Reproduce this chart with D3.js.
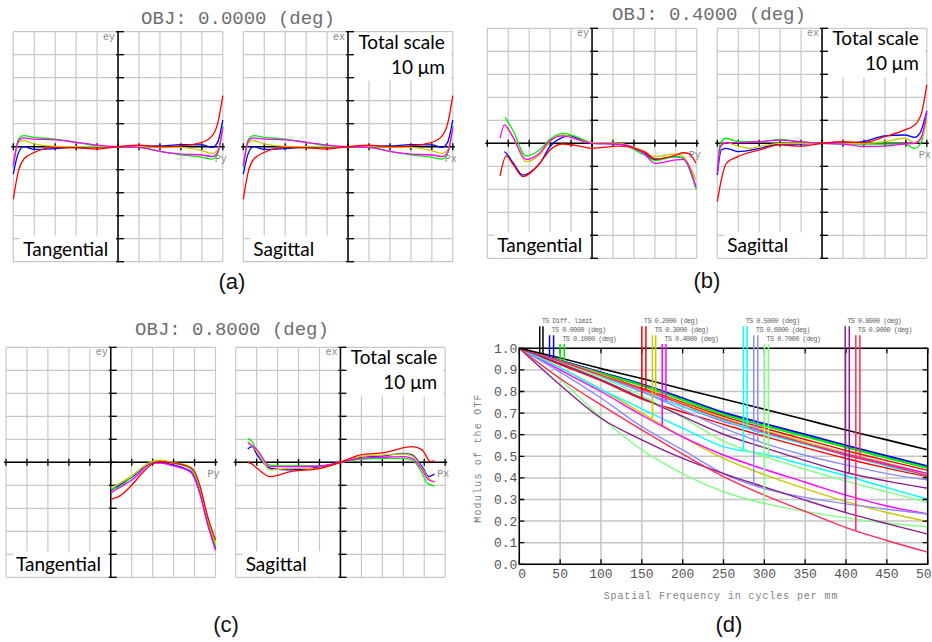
<!DOCTYPE html>
<html>
<head>
<meta charset="utf-8">
<script src="https://cdn.jsdelivr.net/npm/d3@7"></script>
<style>
  body { margin: 0; background: #fff; }
  svg { display: block; }
</style>
</head>
<body>
<svg id="chart"></svg>
<script>
// ---- ray fan data: [pupil coordinate, aberration in um], order = fanColors ----
const fanColors = ["#0000ff", "#00ee00", "#c8c800", "#ff00ff", "#ff0000"];

const pupilA = [-1, -0.95, -0.9, -0.8, -0.6, -0.4, -0.2, 0, 0.2, 0.4, 0.6, 0.8, 0.9, 0.95, 1];
const fanA = [
  [-1.19, -0.25, 0, -0.12, -0.08, -0.02, 0, 0, 0.02, 0.03, 0.09, 0.08, -0.03, 0.19, 1.16],
  [-0.9, 0.33, 0.48, 0.41, 0.33, 0.19, 0.04, 0, -0.03, -0.2, -0.35, -0.46, -0.54, -0.32, 0.91],
  [-0.75, 0.19, 0.26, 0.12, 0.01, 0, 0, 0, 0, -0.02, -0.03, -0.17, -0.29, -0.15, 0.7],
  [-0.83, 0.26, 0.38, 0.33, 0.30, 0.19, 0.07, 0, -0.03, -0.2, -0.32, -0.36, -0.43, -0.25, 0.84],
  [-2.28, -1.04, -0.54, -0.25, -0.03, -0.05, -0.1, 0, 0.07, 0, 0.04, 0.19, 0.48, 0.99, 2.22]
];

const fanBT = [
  [[-0.836, -0.36], [-0.814, -0.46], [-0.75, -0.87], [-0.661, -1.38], [-0.598, -1.28], [-0.499, -0.87], [-0.401, -0.14], [-0.28, 0.26], [-0.216, 0.32], [-0.099, 0.14], [0, 0], [0.251, -0.03], [0.499, -0.43], [0.601, -0.7], [0.801, -0.58], [0.871, -0.65], [0.992, -1.96]],
  [[-0.83, 1.13], [-0.757, 0.58], [-0.63, -0.55], [-0.502, -0.29], [-0.401, 0.17], [-0.28, 0.43], [-0.153, 0.29], [0, 0.03], [0.251, 0], [0.499, -0.51], [0.601, -0.75], [0.801, -0.58], [0.871, -0.65], [0.992, -1.96]],
  [[-0.82, 0.72], [-0.757, 0.29], [-0.63, -0.8], [-0.502, -0.51], [-0.401, 0.07], [-0.28, 0.36], [-0.121, 0.14], [0, 0.03], [0.261, 0], [0.499, -0.36], [0.601, -0.58], [0.801, -0.46], [0.871, -0.58], [0.992, -1.59]],
  [[-0.878, 0.22], [-0.836, 0.8], [-0.757, 0.29], [-0.63, -0.7], [-0.502, -0.43], [-0.401, 0.12], [-0.28, 0.32], [-0.121, 0.14], [0, 0], [0.251, -0.03], [0.499, -0.46], [0.601, -0.87], [0.801, -0.72], [0.871, -0.7], [0.992, -1.88]],
  [[-0.878, -1.42], [-0.82, -0.55], [-0.75, -0.94], [-0.661, -1.45], [-0.499, -0.87], [-0.401, -0.29], [-0.28, -0.03], [-0.099, -0.14], [0, -0.22], [0.251, -0.12], [0.499, -0.36], [0.601, -0.68], [0.801, -0.51], [0.871, -0.41], [0.928, -0.46], [0.992, -0.87]]
];

const fanBS = [
  [[-1, -1.38], [-0.962, -0.29], [-0.914, -0.22], [-0.803, -0.36], [-0.596, -0.22], [-0.404, -0.03], [-0.213, -0.03], [0, 0], [0.201, 0], [0.392, 0.07], [0.599, 0.32], [0.79, 0.36], [0.885, 0.26], [0.933, 0.43], [1, 1.41]],
  [[-1, -1.01], [-0.971, 0], [-0.914, 0.22], [-0.803, 0.07], [-0.596, 0.07], [-0.404, 0.17], [-0.213, 0.07], [0, 0], [0.201, -0.03], [0.392, -0.03], [0.599, -0.03], [0.79, -0.03], [0.885, -0.22], [0.949, 0.07], [1, 1.3]],
  [[-1, -1.09], [-0.962, -0.07], [-0.914, 0.03], [-0.803, -0.12], [-0.691, -0.22], [-0.596, -0.14], [-0.404, 0], [0, 0], [0.392, 0], [0.599, 0.07], [0.79, 0.22], [0.885, 0.03], [0.949, 0.22], [1, 1.01]],
  [[-1, -1.3], [-0.971, -0.14], [-0.914, 0.03], [-0.803, 0.03], [-0.596, 0.07], [-0.404, 0.14], [-0.213, 0.07], [0, 0], [0.201, -0.03], [0.392, -0.14], [0.599, -0.12], [0.79, -0.03], [0.885, 0], [0.949, 0.29], [1, 1.38]],
  [[-1, -2.54], [-0.962, -1.59], [-0.914, -0.87], [-0.803, -0.58], [-0.596, -0.29], [-0.404, -0.07], [-0.213, -0.12], [0, 0], [0.201, 0.07], [0.392, 0.03], [0.599, 0.29], [0.79, 0.58], [0.885, 0.8], [0.949, 1.3], [1, 2.54]]
];

const fanCT = [
  [[0, -1.23], [0.201, -0.65], [0.408, 0], [0.471, 0], [0.599, -0.12], [0.726, -0.3], [0.774, -0.45], [0.854, -1.35], [0.917, -2.5], [1, -3.74]],
  [[0, -1.17], [0.089, -1.06], [0.201, -0.62], [0.312, -0.19], [0.408, 0.03], [0.471, 0.07], [0.599, -0.04], [0.726, -0.19], [0.774, -0.33], [0.854, -1.2], [0.917, -2.36], [1, -3.67]],
  [[0, -1.13], [0.201, -0.59], [0.408, 0.06], [0.471, 0.09], [0.599, -0.01], [0.726, -0.12], [0.774, -0.26], [0.854, -1.13], [0.917, -2.29], [1, -3.52]],
  [[0, -1.32], [0.201, -0.77], [0.408, -0.04], [0.471, -0.04], [0.599, -0.16], [0.726, -0.33], [0.774, -0.48], [0.854, -1.42], [0.917, -2.58], [1, -3.84]],
  [[0, -1.61], [0.089, -1.46], [0.201, -0.99], [0.312, -0.41], [0.408, -0.04], [0.471, 0.03], [0.599, -0.04], [0.726, -0.16], [0.79, -0.33], [0.854, -1.06], [0.917, -2.22], [1, -3.38]]
];

const fanCS = [
  [[-0.885, 0.58], [-0.844, 0.68], [-0.796, 0.32], [-0.669, -0.26], [-0.478, -0.33], [-0.191, -0.19], [0, 0], [0.191, 0.22], [0.414, 0.28], [0.605, 0.39], [0.685, 0.32], [0.78, -0.19], [0.844, -0.62], [0.898, -0.51]],
  [[-0.885, 1.04], [-0.844, 0.9], [-0.796, 0.46], [-0.669, -0.12], [-0.478, -0.16], [-0.191, -0.16], [0, 0], [0.191, 0.13], [0.414, 0.17], [0.605, 0.17], [0.685, 0.1], [0.78, -0.48], [0.828, -0.91], [0.898, -1.03]],
  [[-0.885, 0.9], [-0.796, 0.46], [-0.669, -0.33], [-0.478, -0.26], [-0.191, -0.26], [0, 0], [0.191, 0.25], [0.414, 0.32], [0.605, 0.36], [0.685, 0.28], [0.78, -0.26], [0.844, -0.7], [0.898, -0.88]],
  [[-0.885, 0.86], [-0.796, 0.54], [-0.669, -0.19], [-0.478, -0.19], [-0.191, -0.16], [0, 0], [0.191, 0.17], [0.414, 0.22], [0.605, 0.25], [0.685, 0.17], [0.78, -0.33], [0.844, -0.77], [0.898, -0.84]],
  [[-0.885, 0.0], [-0.85, -0.06], [-0.796, -0.26], [-0.669, -0.62], [-0.478, -0.41], [-0.191, -0.26], [0, 0], [0.191, 0.32], [0.414, 0.42], [0.685, 0.68], [0.78, 0.54], [0.86, 0.03], [0.898, 0.07]]
];

// ---- MTF data ----
const freqs = [0, 50, 100, 150, 200, 250, 300, 350, 400, 450, 500];
const mtfDiff = [1, .955, .906, .860, .812, .765, .718, .670, .622, .576, .53];
const fieldNames = ["0.0000", "0.1000", "0.2000", "0.3000", "0.4000", "0.5000", "0.6000", "0.7000", "0.8000", "0.9000"];
const fieldColors = ["#0000ff", "#00ee00", "#ff0000", "#c8c800", "#ff00ff", "#00ffff", "#8c8cff", "#80ff80", "#8b1e8b", "#ff2a5a"];
const mtfT = [
  [1, .945, .89, .835, .77, .704, .652, .602, .552, .503, .455],
  [1, .943, .886, .83, .763, .696, .644, .594, .544, .495, .448],
  [1, .925, .85, .765, .705, .648, .592, .54, .49, .445, .405],
  [1, .91, .81, .70, .59, .49, .415, .35, .29, .24, .198],
  [1, .90, .80, .69, .59, .506, .44, .38, .32, .27, .233],
  [1, .91, .81, .72, .63, .545, .51, .46, .41, .355, .301],
  [1, .89, .77, .637, .53, .42, .35, .31, .28, .255, .233],
  [1, .855, .68, .53, .42, .336, .282, .245, .215, .19, .174],
  [1, .83, .676, .576, .49, .42, .358, .297, .239, .188, .14],
  [1, .86, .738, .622, .51, .406, .32, .245, .17, .11, .056]
];
const mtfS = [
  [1, .944, .888, .832, .768, .70, .648, .598, .548, .5, .452],
  [1, .941, .883, .826, .759, .692, .64, .59, .54, .491, .444],
  [1, .94, .88, .815, .75, .685, .63, .578, .527, .48, .435],
  [1, .94, .88, .81, .745, .675, .62, .567, .515, .468, .42],
  [1, .935, .87, .80, .73, .662, .61, .56, .51, .465, .42],
  [1, .935, .87, .80, .73, .665, .605, .555, .505, .455, .41],
  [1, .94, .875, .80, .715, .63, .56, .505, .46, .42, .39],
  [1, .935, .865, .78, .68, .57, .5, .44, .385, .335, .287],
  [1, .93, .855, .77, .685, .602, .54, .48, .425, .385, .352],
  [1, .94, .875, .81, .74, .672, .615, .56, .505, .46, .41]
];
// legend marker frequencies (T line, S line): diff limit first, then fields
const markerT = [25, 37, 50, 150, 163, 175, 274.5, 287, 300, 399, 412];
const markerS = [29, 42, 55, 155, 167, 179.5, 279, 292, 305, 404, 417];
const xTicks = [0, 50, 100, 150, 200, 250, 300, 350, 400, 450, 500];
const yTicks = [0, .1, .2, .3, .4, .5, .6, .7, .8, .9, 1];

const width = 932;
const height = 642;
const svg = d3.select("#chart").attr("width", width).attr("height", height);

const mono = "'Liberation Mono', 'Courier New', monospace";
const calib = "Lato, 'Open Sans', sans-serif";
const boxW = 209.5, boxH = 230;

function drawFan(bx, by, series, o) {
    const g = svg.append("g");
    const x = d3.scaleLinear().domain([-1, 1]).range([bx, bx + boxW]);
    const y = d3.scaleLinear().domain([-5, 5]).range([by + boxH, by]);
    const xt = d3.range(-5, 6).map(d => d / 5);
    const yt = d3.range(-5, 6);

    g.append("g").selectAll("line").data(xt).join("line")
        .attr("x1", d => x(d)).attr("x2", d => x(d))
        .attr("y1", y(-5)).attr("y2", y(5))
        .attr("stroke", "#c8c8c8").attr("stroke-width", 1.2);
    g.append("g").selectAll("line").data(yt).join("line")
        .attr("x1", x(-1)).attr("x2", x(1))
        .attr("y1", d => y(d)).attr("y2", d => y(d))
        .attr("stroke", "#c8c8c8").attr("stroke-width", 1.2);

    // label at bottom left, on a white patch
    const lab = g.append("text")
        .attr("x", bx + 10).attr("y", by + boxH - 6)
        .attr("font-family", calib).attr("font-size", 19)
        .text(o.name);
    const bb = lab.node().getBBox();
    g.insert("rect", "text")
        .attr("x", bb.x - 3).attr("y", bb.y - 1)
        .attr("width", x(0) - bb.x + 1).attr("height", by + boxH - bb.y)
        .attr("fill", "#fff");

    if (o.scale) {
        g.append("rect")
            .attr("x", x(0) + 3).attr("y", by + 1)
            .attr("width", x(1) - x(0) - 5).attr("height", 48)
            .attr("fill", "#fff");
        g.append("text").attr("x", x(1) - 8).attr("y", by + 17)
            .attr("text-anchor", "end").attr("font-family", calib).attr("font-size", 19)
            .text("Total scale");
        g.append("text").attr("x", x(1) - 8).attr("y", by + 42)
            .attr("text-anchor", "end").attr("font-family", calib).attr("font-size", 19)
            .text("10 \u03bcm");
    }

    // axes
    g.append("line").attr("x1", x(-1) - 2).attr("x2", x(1) + 2)
        .attr("y1", y(0)).attr("y2", y(0)).attr("stroke", "#000").attr("stroke-width", 1.5);
    g.append("line").attr("x1", x(0)).attr("x2", x(0))
        .attr("y1", y(-5)).attr("y2", y(5)).attr("stroke", "#000").attr("stroke-width", 1.5);
    g.append("g").selectAll("line").data(xt).join("line")
        .attr("x1", d => x(d)).attr("x2", d => x(d))
        .attr("y1", y(0) - 3.5).attr("y2", y(0) + 3.5)
        .attr("stroke", "#000").attr("stroke-width", 1.3);
    g.append("g").selectAll("line").data(yt).join("line")
        .attr("x1", x(0) - 2).attr("x2", x(0) + 6)
        .attr("y1", d => y(d)).attr("y2", d => y(d))
        .attr("stroke", "#000").attr("stroke-width", 1.3);

    g.append("text").attr("x", x(0) - 3).attr("y", by + 8)
        .attr("text-anchor", "end").attr("font-family", mono).attr("font-size", 10)
        .attr("fill", "#888").text(o.yLabel);
    g.append("text").attr("x", x(1) + 4).attr("y", y(0) + 15)
        .attr("text-anchor", "end").attr("font-family", mono).attr("font-size", 10)
        .attr("fill", "#888").text(o.xLabel);

    const line = d3.line().x(d => x(d[0])).y(d => y(d[1])).curve(d3.curveMonotoneX);
    g.append("g").selectAll("path").data(series).join("path")
        .attr("d", line)
        .attr("fill", "none")
        .attr("stroke", (d, i) => fanColors[i])
        .attr("stroke-width", 1.3);
}

function title(cx, cy, txt) {
    svg.append("text").attr("x", cx).attr("y", cy)
        .attr("text-anchor", "middle").attr("font-family", mono).attr("font-size", 19)
        .attr("fill", "#6e6e6e").text(txt);
}
function subLabel(cx, cy, txt) {
    svg.append("text").attr("x", cx).attr("y", cy)
        .attr("text-anchor", "middle").attr("font-family", "'Liberation Sans', Arial, sans-serif")
        .attr("font-size", 22).attr("fill", "#111").text(txt);
}

const fanAPairs = fanA.map(s => s.map((v, i) => [pupilA[i], v]));

title(238, 24, "OBJ: 0.0000 (deg)");
drawFan(13.3, 31.7, fanAPairs, { name: "Tangential", yLabel: "ey", xLabel: "Py" });
drawFan(243.3, 31.7, fanAPairs, { name: "Sagittal", yLabel: "ex", xLabel: "Px", scale: true });
subLabel(232, 289, "(a)");

title(709, 20, "OBJ: 0.4000 (deg)");
drawFan(487.3, 28.3, fanBT, { name: "Tangential", yLabel: "ey", xLabel: "Py" });
drawFan(717.3, 28.3, fanBS, { name: "Sagittal", yLabel: "ex", xLabel: "Px", scale: true });
subLabel(707, 288, "(b)");

title(232, 335, "OBJ: 0.8000 (deg)");
drawFan(6, 347.3, fanCT, { name: "Tangential", yLabel: "ey", xLabel: "Py" });
drawFan(235.7, 347.3, fanCS, { name: "Sagittal", yLabel: "ex", xLabel: "Px", scale: true });
subLabel(226, 632, "(c)");

// ---- MTF panel ----
function drawMTF() {
    const g = svg.append("g");
    const x = d3.scaleLinear().domain([0, 500]).range([519.3, 927.7]);
    const y = d3.scaleLinear().domain([0, 1]).range([564.3, 348.3]);

    g.append("g").selectAll("line").data(xTicks).join("line")
        .attr("x1", d => x(d)).attr("x2", d => x(d))
        .attr("y1", y(0)).attr("y2", y(1))
        .attr("stroke", "#c4c4c4").attr("stroke-width", 1.5);
    g.append("g").selectAll("line").data(yTicks).join("line")
        .attr("x1", x(0)).attr("x2", x(500))
        .attr("y1", d => y(d)).attr("y2", d => y(d))
        .attr("stroke", "#c4c4c4").attr("stroke-width", 1.5);

    const line = d3.line().x((d, i) => x(freqs[i])).y(d => y(d)).curve(d3.curveMonotoneX);
    const curves = [];
    mtfT.forEach((s, i) => {
        curves.push({ v: s, c: fieldColors[i] });
        curves.push({ v: mtfS[i], c: fieldColors[i] });
    });
    g.append("g").selectAll("path").data(curves).join("path")
        .attr("d", d => line(d.v))
        .attr("fill", "none").attr("stroke", d => d.c).attr("stroke-width", 1.4);
    g.append("path").attr("d", line(mtfDiff))
        .attr("fill", "none").attr("stroke", "#000").attr("stroke-width", 1.6);

    // frame + ticks
    g.append("rect").attr("x", x(0)).attr("y", y(1))
        .attr("width", x(500) - x(0)).attr("height", y(0) - y(1))
        .attr("fill", "none").attr("stroke", "#000").attr("stroke-width", 1.5);
    g.append("g").selectAll("path").data(xTicks).join("path")
        .attr("d", d => `M${x(d)},${y(0)}v-5M${x(d)},${y(1)}v5`)
        .attr("stroke", "#000").attr("stroke-width", 1.3);
    g.append("g").selectAll("path").data(yTicks).join("path")
        .attr("d", d => `M${x(0)},${y(d)}h5M${x(500)},${y(d)}h-5`)
        .attr("stroke", "#000").attr("stroke-width", 1.3);

    g.append("g").selectAll("text").data(yTicks).join("text")
        .attr("x", x(0) - 2).attr("y", d => y(d) + 4.5)
        .attr("text-anchor", "end").attr("font-family", mono).attr("font-size", 13)
        .attr("fill", "#555").text(d => d3.format(".1f")(d));
    g.append("g").selectAll("text").data(xTicks).join("text")
        .attr("x", d => d === 0 ? x(d) - 1 : x(d)).attr("y", 578)
        .attr("text-anchor", d => d === 0 ? "start" : "middle")
        .attr("font-family", mono).attr("font-size", 13)
        .attr("fill", "#555").text(d => d);

    g.append("text").attr("x", 721).attr("y", 599)
        .attr("text-anchor", "middle").attr("font-family", mono).attr("font-size", 10)
        .attr("letter-spacing", 0.9).attr("fill", "#808080")
        .text("Spatial Frequency in cycles per mm");
    g.append("text").attr("transform", "translate(481,458) rotate(-90)")
        .attr("text-anchor", "middle").attr("font-family", mono).attr("font-size", 10)
        .attr("letter-spacing", 1.2).attr("fill", "#808080")
        .text("Modulus of the OTF");

    // legend markers
    const allT = [mtfDiff].concat(mtfT);
    const allS = [mtfDiff].concat(mtfS);
    const colors = ["#000"].concat(fieldColors);
    const names = ["Diff. limit"].concat(fieldNames.map(f => f + " (deg)"));
    const rowY = [323.3, 332.3, 341];
    const interp = d3.scaleLinear().domain(freqs);
    names.forEach((nm, i) => {
        const top = rowY[i % 3] + 3;
        const vt = interp.copy().range(allT[i])(markerT[i]);
        const vs = interp.copy().range(allS[i])(markerS[i]);
        g.append("line").attr("x1", x(markerT[i])).attr("x2", x(markerT[i]))
            .attr("y1", top).attr("y2", y(vt)).attr("stroke", colors[i]).attr("stroke-width", 1.5);
        g.append("line").attr("x1", x(markerS[i])).attr("x2", x(markerS[i]))
            .attr("y1", top).attr("y2", y(vs)).attr("stroke", colors[i]).attr("stroke-width", 1.5);
        g.append("text").attr("x", x(markerT[i]) + 2).attr("y", rowY[i % 3])
            .attr("font-family", mono).attr("font-size", 7).attr("letter-spacing", -0.6)
            .attr("fill", "#666").text("TS " + nm);
    });
}
drawMTF();
subLabel(729, 632, "(d)");
</script>
</body>
</html>
